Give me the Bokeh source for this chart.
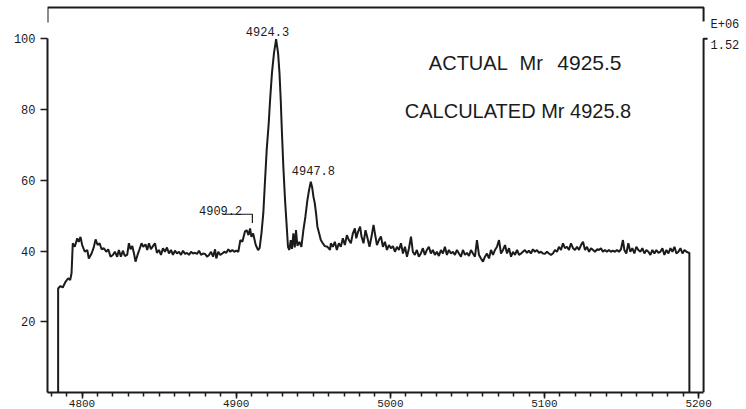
from bokeh.plotting import figure
from bokeh.models import Range1d, LinearAxis, FixedTicker, ColumnDataSource
from bokeh.core.properties import value
from bokeh.embed import file_html
from bokeh.resources import INLINE

# ---------------- data ----------------
mz = [
    4784.5, 4784.5, 4786.0, 4787.5, 4789.3, 4791.0, 4792.3, 4793.2, 4794.0, 4795.3,
    4796.9, 4797.9, 4799.0, 4800.1, 4801.8, 4803.4, 4804.4, 4806.2, 4807.7, 4808.8,
    4810.1, 4811.4, 4812.7, 4814.2, 4815.7, 4817.0, 4818.5, 4820.0, 4821.3, 4822.8,
    4823.9, 4825.2, 4826.5, 4827.8, 4829.3, 4830.4, 4831.5, 4832.6, 4833.7, 4834.7,
    4836.0, 4837.3, 4838.6, 4839.7, 4841.2, 4842.3, 4843.4, 4844.7, 4846.0, 4847.3,
    4848.6, 4849.9, 4851.2, 4852.5, 4853.8, 4855.1, 4856.4, 4857.7, 4859.0, 4860.3,
    4861.6, 4862.9, 4864.2, 4865.5, 4866.8, 4868.1, 4869.4, 4870.7, 4872.0, 4873.3,
    4874.6, 4875.9, 4877.2, 4878.5, 4879.8, 4881.1, 4882.4, 4883.7, 4885.0, 4886.3,
    4887.1, 4888.4, 4889.7, 4891.0, 4892.3, 4893.6, 4894.9, 4896.2, 4897.5, 4898.8,
    4900.1, 4901.4, 4902.7, 4904.0, 4905.7,
    4906.8, 4908.0, 4909.0, 4909.9, 4911.0, 4912.7, 4914.2, 4915.2, 4916.4, 4917.6,
    4918.5, 4919.8, 4921.1, 4922.0, 4923.2, 4924.5, 4925.9, 4927.2, 4928.1, 4928.9,
    4929.7, 4930.6, 4931.7, 4932.8, 4933.6, 4934.5, 4935.4, 4936.2, 4937.1, 4938.0,
    4938.8, 4939.7, 4941.0, 4942.3, 4943.6, 4944.9, 4946.2, 4947.3, 4948.4, 4949.3,
    4950.1, 4951.0, 4951.8, 4952.7, 4953.8, 4954.9, 4956.2, 4957.5, 4959.2, 4960.9,
    4961.4, 4962.7, 4964.0, 4965.3, 4966.6, 4967.9, 4969.2, 4970.5, 4971.8, 4973.1,
    4974.4, 4975.7, 4977.0, 4977.9, 4979.1, 4980.4, 4981.3, 4982.6, 4983.9, 4985.2,
    4986.5, 4987.8, 4989.1, 4990.0, 4991.3, 4992.6, 4993.9, 4995.2, 4996.5, 4997.8,
    4999.1, 5000.4, 5001.7, 5003.0, 5004.3, 5005.6, 5006.9, 5008.2, 5009.5, 5010.8,
    5012.1, 5013.4, 5014.6, 5015.9, 5017.2, 5018.5, 5019.8, 5021.1, 5022.4, 5023.7,
    5025.0, 5026.3, 5027.6, 5028.9, 5030.2, 5031.5, 5032.8, 5034.1, 5035.4, 5036.7,
    5038.0, 5039.3, 5040.6, 5041.9, 5043.2, 5044.5, 5045.8, 5047.1, 5048.4, 5049.7,
    5051.0, 5052.3, 5053.6, 5054.9, 5056.2, 5057.5, 5058.8, 5060.1, 5061.4, 5062.7,
    5064.0, 5065.3, 5066.6, 5067.9, 5069.2, 5070.5, 5071.8, 5073.1, 5074.4, 5075.7,
    5077.0, 5078.3, 5079.6, 5080.9, 5082.2, 5083.5, 5084.8,
    5086.0, 5087.3, 5088.6, 5089.9, 5091.2, 5092.5, 5093.8, 5095.1, 5096.4, 5097.7,
    5099.0, 5100.3, 5101.6, 5102.9, 5104.2, 5105.5, 5106.8, 5108.1, 5109.4, 5110.7,
    5112.0, 5113.3, 5114.6, 5115.9, 5117.2, 5118.5, 5119.8, 5121.1, 5122.4, 5123.7,
    5125.0, 5126.3, 5127.6, 5128.9, 5130.2, 5131.5, 5132.8, 5134.1, 5135.3, 5136.6,
    5137.9, 5139.2, 5140.5, 5141.8, 5143.1, 5144.4, 5145.7, 5147.0, 5148.3, 5149.6,
    5150.9, 5151.8, 5153.1, 5154.4, 5155.7, 5157.0, 5158.3, 5159.6, 5160.9, 5162.2,
    5163.5, 5164.8, 5166.1, 5167.4, 5168.7, 5170.0, 5171.3, 5172.6, 5173.9, 5175.2,
    5176.5, 5177.8, 5179.1, 5180.4, 5181.7, 5183.0, 5184.3, 5185.6, 5186.9, 5188.2,
    5189.5, 5190.8, 5192.1, 5193.6, 5194.0, 5194.0,
]
intensity = [
    0.0, 29.4, 30.1, 29.7, 31.3, 32.3, 31.8, 33.7, 42.2, 41.2,
    43.6, 42.6, 44.0, 41.7, 39.8, 40.3, 37.9, 39.3, 41.2, 43.3,
    41.7, 42.2, 40.5, 40.8, 39.8, 40.5, 38.4, 38.9, 39.8, 38.4,
    40.3, 38.4, 40.1, 38.6, 38.9, 42.2, 40.5, 41.4, 39.3, 37.0,
    38.9, 40.5, 42.2, 41.2, 41.9, 40.3, 42.2, 40.5, 41.4, 42.2,
    39.5, 40.3, 38.9, 40.8, 39.8, 41.0, 39.3, 40.3, 38.9, 40.1,
    39.3, 39.8, 38.9, 40.1, 39.2, 39.5, 38.9, 39.8, 39.3, 39.5,
    39.2, 40.1, 38.9, 39.3, 39.2, 38.4, 38.9, 39.8, 38.4, 40.5,
    37.9, 39.8, 38.9, 39.3, 39.8, 39.5, 40.5, 39.8, 40.3, 39.8,
    40.1, 39.8, 43.1, 42.6, 45.5,
    45.9, 44.5, 46.4, 44.0, 45.0, 41.7, 40.3, 40.8, 45.0, 50.7,
    58.2, 68.6, 76.1, 82.7, 90.3, 95.9, 99.9, 95.9, 90.3, 82.7,
    73.3, 63.8, 54.4, 46.9, 41.2, 40.3, 43.1, 40.6, 45.0, 41.0,
    45.9, 41.5, 42.6, 41.2, 45.9, 49.7, 54.4, 57.3, 59.6, 58.0,
    55.4, 53.5, 50.7, 46.9, 45.0, 43.1, 42.2, 41.4, 41.2, 40.3,
    42.2, 41.2, 42.6, 40.3, 42.2, 41.2, 43.6, 41.7, 44.5, 43.1,
    42.2, 45.0, 46.4, 43.6, 45.5, 46.9, 44.1, 42.2, 45.9, 43.6,
    41.2, 44.1, 47.4, 45.0, 41.7, 43.1, 44.1, 41.2, 42.6, 40.3,
    41.7, 40.8, 41.4, 39.8, 41.2, 40.3, 42.2, 39.3, 41.2, 38.4,
    40.8, 44.1, 39.8, 38.9, 40.3, 38.4, 39.3, 40.8, 38.9, 40.3,
    41.2, 39.3, 40.3, 38.9, 39.8, 38.6, 40.3, 39.3, 41.2, 38.9,
    40.3, 39.3, 39.8, 38.9, 40.3, 39.3, 38.4, 40.3, 38.9, 39.5,
    38.6, 40.3, 39.3, 38.4, 43.1, 38.9, 37.9, 37.0, 38.4, 39.3,
    37.9, 40.3, 38.9, 40.3, 41.2, 43.1, 39.3, 40.3, 41.7, 39.3,
    40.8, 38.4, 39.8, 38.9, 40.3, 38.9, 39.3,
    39.8, 40.3, 39.5, 40.1, 39.3, 40.5, 39.8, 40.3, 39.5, 39.8,
    39.3, 39.2, 39.8, 39.3, 38.9, 39.3, 40.3, 39.8, 41.2, 40.3,
    42.2, 40.8, 41.2, 40.3, 42.2, 40.8, 40.3, 41.2, 40.3, 41.7,
    42.6, 40.3, 41.2, 39.8, 40.8, 40.3, 39.8, 40.5, 40.3, 40.8,
    39.8, 40.3, 39.8, 40.3, 39.8, 40.1, 39.8, 40.3, 39.8, 40.5,
    43.1, 40.3, 39.3, 42.2, 39.8, 40.8, 39.3, 41.2, 40.3, 39.8,
    40.8, 39.3, 40.3, 39.8, 38.9, 40.3, 39.3, 40.3, 39.5, 39.8,
    40.8, 38.9, 40.3, 39.3, 40.8, 39.8, 41.2, 39.3, 39.8, 40.8,
    39.3, 40.3, 39.8, 39.5, 39.5, 0.0,
]

x_major_ticks = [4800, 4900, 5000, 5100, 5200]
x_minor_ticks = list(range(4780, 5201, 10))
y_ticks = [20, 40, 60, 80, 100]

peak_labels = ["4924.3", "4947.8", "4909.2"]
peak_label_x = [4920.3, 4950.1, 4889.9]
peak_label_y = [102.0, 62.9, 51.6]

bracket_x = [4891.4, 4910.5, 4910.5]
bracket_y = [50.4, 50.4, 47.9]

x_lo, x_hi = 4777.6, 5203.2          # extent of the drawn axes
top_x = [x_lo, x_lo, x_hi, x_hi]
top_y = [104.6, 108.9, 108.9, 104.9]
right_x = [x_hi, x_hi, x_hi + 2.6]
right_y = [0, 100, 100]

scale_ticks = [98.0, 104.0]
scale_texts = {98.0: "1.52", 104.0: "E+06"}

INK = "#1b1b1b"

# ---------------- figure ----------------
p = figure(width=746, height=409, output_backend="svg", toolbar_location=None,
           x_range=Range1d(x_lo, 5206.4), y_range=Range1d(0, 110.0),
           x_axis_location=None, y_axis_location=None,
           min_border_left=47, min_border_right=38,
           min_border_top=3, min_border_bottom=17)
p.outline_line_color = None
p.background_fill_color = "white"
p.border_fill_color = "white"
p.xgrid.visible = False
p.ygrid.visible = False

xaxis = LinearAxis(ticker=FixedTicker(ticks=x_major_ticks, minor_ticks=x_minor_ticks),
                   bounds=(x_lo, x_hi))
xaxis.axis_line_width = 2
xaxis.axis_line_color = INK
xaxis.major_tick_in = 0
xaxis.major_tick_out = 6
xaxis.minor_tick_in = 0
xaxis.minor_tick_out = 4
xaxis.major_tick_line_width = 1.5
xaxis.minor_tick_line_width = 1.5
xaxis.major_tick_line_color = INK
xaxis.minor_tick_line_color = INK
xaxis.major_label_text_font = "Liberation Mono"
xaxis.major_label_text_font_size = "11px"
xaxis.major_label_text_color = INK
xaxis.major_label_standoff = 1
p.add_layout(xaxis, "below")

yaxis = LinearAxis(ticker=FixedTicker(ticks=y_ticks, minor_ticks=[]), bounds=(0, 100))
yaxis.axis_line_width = 2
yaxis.axis_line_color = INK
yaxis.major_tick_in = 0
yaxis.major_tick_out = 7
yaxis.major_tick_line_width = 1.5
yaxis.major_tick_line_color = INK
yaxis.major_label_text_font = "Liberation Mono"
yaxis.major_label_text_font_size = "12px"
yaxis.major_label_text_color = INK
yaxis.major_label_standoff = 5
p.add_layout(yaxis, "left")

# right-hand scale: only labels (line and tick drawn as glyphs)
raxis = LinearAxis(ticker=FixedTicker(ticks=scale_ticks, minor_ticks=[]),
                   major_label_overrides=scale_texts)
raxis.axis_line_color = None
raxis.major_tick_line_color = None
raxis.major_tick_in = 0
raxis.major_tick_out = 0
raxis.major_label_standoff = 2
raxis.major_label_text_font = "Liberation Mono"
raxis.major_label_text_font_size = "12px"
raxis.major_label_text_color = INK
p.add_layout(raxis, "right")

src = ColumnDataSource(dict(mz=mz, intensity=intensity))
p.line("mz", "intensity", source=src, line_color=INK, line_width=2)

p.line(top_x, top_y, line_color=INK, line_width=2)
p.line(right_x, right_y, line_color=INK, line_width=2)
p.line(bracket_x, bracket_y, line_color=INK, line_width=1.2)

p.text(x=peak_label_x, y=peak_label_y, text=peak_labels,
       text_font=value("Liberation Mono"), text_font_size="12px",
       text_align="center", text_baseline="middle", text_color=INK)

p.text(x=[5025.0, 5083.8, 5009.4], y=[93.2, 93.2, 79.5],
       text=["ACTUAL", "Mr", "CALCULATED Mr 4925.8"],
       text_font=value("Liberation Sans"), text_font_size="20px",
       text_align="left", text_baseline="middle", text_color=INK)
p.text(x=[5108.3], y=[93.2], text=["4925.5"],
       text_font=value("Liberation Sans"), text_font_size="21px",
       text_align="left", text_baseline="middle", text_color=INK)

open("out.html", "w").write(file_html(p, INLINE))
